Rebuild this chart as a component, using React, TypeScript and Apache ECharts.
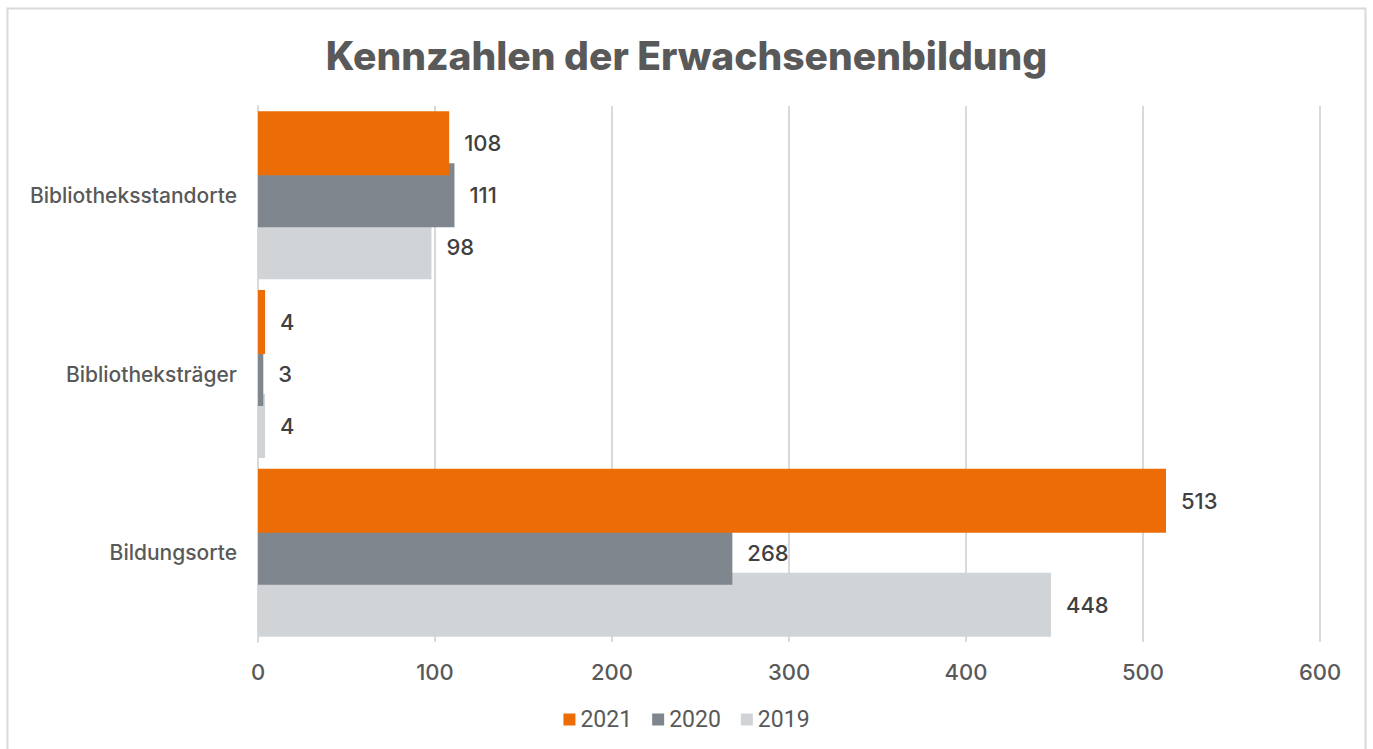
import React, { useEffect, useRef } from "react";
import * as echarts from "echarts";

const categories = ["Bildungsorte", "Bibliotheksträger", "Bibliotheksstandorte"];
const seriesNames = ["2021", "2020", "2019"];
const values2021 = [513, 4, 108];
const values2020 = [268, 3, 111];
const values2019 = [448, 4, 98];
const xTicks = { min: 0, max: 600, interval: 100 };
const colors = ["#EC6C05", "#7F868D", "#D0D4D7"];

export default function App() {
  const ref = useRef<HTMLDivElement>(null);
  useEffect(() => {
    if (!ref.current) return;
    const chart = echarts.init(ref.current, null, { renderer: "svg" });
    const data = [values2021, values2020, values2019];
    const font = "Inter, 'Open Sans', sans-serif";
    chart.setOption({
      animation: false,
      color: colors,
      title: {
        text: "Kennzahlen der Erwachsenenbildung",
        left: "center",
        top: 31,
        textStyle: { fontSize: 39, fontWeight: 800, color: "#595959", fontFamily: font },
      },
      graphic: [
        {
          type: "rect",
          shape: { x: 7.5, y: 8.5, width: 1358, height: 800 },
          style: { fill: "none", stroke: "#D9D9D9", lineWidth: 2 },
          silent: true,
        },
      ],
      legend: {
        data: seriesNames,
        bottom: 13,
        left: "center",
        icon: "rect",
        itemWidth: 12,
        itemHeight: 12,
        itemGap: 20,
        textStyle: { fontSize: 23, color: "#595959", fontFamily: "Roboto, sans-serif" },
      },
      grid: { left: 258, right: 53, top: 106, bottom: 107, containLabel: false },
      xAxis: {
        type: "value",
        min: xTicks.min,
        max: xTicks.max,
        interval: xTicks.interval,
        axisLine: { show: false },
        axisTick: { show: false },
        splitLine: { lineStyle: { color: "#D9D9D9", width: 2 } },
        axisLabel: { fontSize: 22, fontWeight: 500, color: "#595959", margin: 19, fontFamily: font },
      },
      yAxis: {
        type: "category",
        data: categories,
        axisLine: { show: true, lineStyle: { color: "#D9D9D9", width: 2 } },
        axisTick: { show: false },
        axisLabel: { fontSize: 21, fontWeight: 500, color: "#595959", margin: 21, fontFamily: font },
      },
      series: seriesNames.map((name, i) => ({
        name,
        type: "bar",
        data: data[i],
        barWidth: 64,
        barGap: "-18.75%",
        z: 10 - i,
        itemStyle: { color: colors[i] },
        label: {
          show: true,
          position: "right",
          distance: 15,
          fontSize: 22,
          fontWeight: 500,
          color: "#404040",
          fontFamily: font,
        },
      })),
    });
    return () => chart.dispose();
  }, []);
  return (
    <div
      ref={ref}
      style={{ position: "fixed", left: 0, top: 0, width: 1373, height: 749, background: "#fff" }}
    />
  );
}
